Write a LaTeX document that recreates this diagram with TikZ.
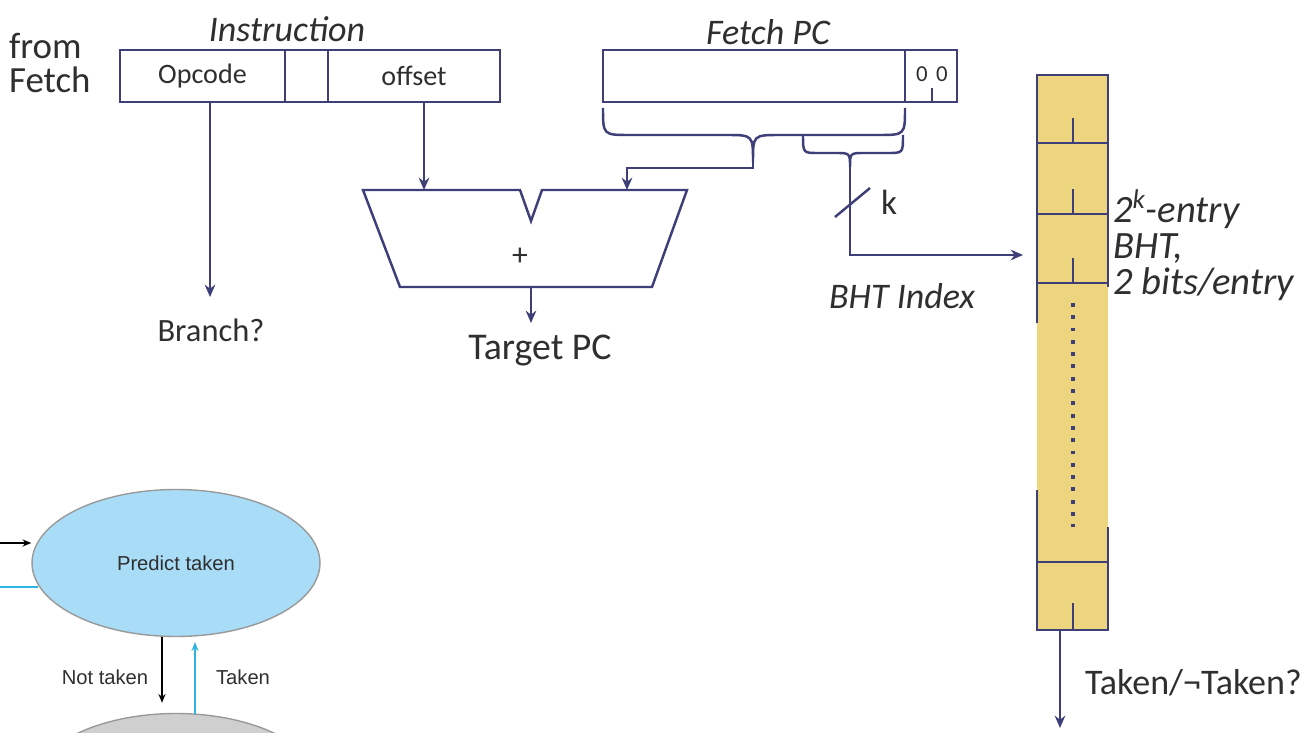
\documentclass[tikz,border=0pt]{standalone}
\usepackage{fontspec}
\setmainfont{Carlito}
\newfontfamily\helv{Liberation Sans}
\usetikzlibrary{arrows.meta,shapes.geometric,calc}
\definecolor{ln}{HTML}{3E3F78}
\definecolor{tx}{HTML}{2F2F2F}
\definecolor{bhtfill}{HTML}{EDD47E}
\definecolor{ptfill}{HTML}{A9DCF6}
\definecolor{gfill}{HTML}{CFCFCF}
\definecolor{gborder}{HTML}{9A9A9A}
\definecolor{cyanl}{HTML}{2BB5E0}
\tikzset{
  wire/.style={draw=ln, line width=1.4pt},
  arr/.style={wire, -{Stealth[length=7pt,width=6pt]}},
  field/.style={draw=ln, line width=1.4pt, inner sep=0pt, minimum height=1.04cm, text=tx, font=\fontsize{16}{18}\selectfont},
  biglbl/.style={text=tx, font=\fontsize{20}{22}\selectfont, inner sep=1pt},
  itlbl/.style={text=tx, font=\fontsize{20.5}{22}\selectfont\itshape, inner sep=1pt},
  state/.style={ellipse, draw=gborder, line width=0.8pt, minimum width=5.76cm, minimum height=2.94cm, inner sep=0pt, text=tx, font=\helv\fontsize{11.5}{13}\selectfont},
  small/.style={text=tx, font=\helv\fontsize{11.5}{13}\selectfont, inner sep=1pt},
  sarr/.style={-{Stealth[length=5pt,width=4pt]}, line width=0.8pt}
}
\begin{document}
\begin{tikzpicture}[x=0.02cm, y=-0.02cm]
\useasboundingbox (0,0) rectangle (1301,733);
\clip (0,0) rectangle (1301,733);
\fill[white] (0,0) rectangle (1301,733);

% ---- Instruction ----
\node[biglbl, anchor=west, align=left, font=\fontsize{21}{22}\selectfont] (from) at (7,63) {from\\[-3pt]Fetch};
\node[field, minimum width=3.3cm] (opcode) at (202.5,76) {Opcode};
\node[field, minimum width=0.86cm] (mid) at (306.5,76) {};
\node[field, minimum width=3.44cm] (offset) at (414,76) {offset};
\node[itlbl] (instr) at (287,29) {Instruction};

% ---- Fetch PC ----
\node[field, minimum width=6.04cm] (pc) at (754,76) {};
\node[field, minimum width=1.04cm] (pclow) at (931,76) {};
\node[text=tx, font=\fontsize{13}{15}\selectfont, inner sep=0pt] (z1) at (922,74) {0};
\node[text=tx, font=\fontsize{13}{15}\selectfont, inner sep=0pt] (z2) at (942,74) {0};
\draw[wire, line width=1pt] (932,88) -- (pclow.south -| 932,0);
\node[itlbl] (fpc) at (768,32) {Fetch PC};

% braces
\draw[wire] (603,108) .. controls (603,135) .. (630,135) -- (726,135)
  .. controls (753,135) .. (753,162) coordinate (bigtip)
  .. controls (753,135) .. (780,135) -- (878,135)
  .. controls (905,135) .. (905,108);
\draw[wire] (803,135) .. controls (803,153) .. (818,153) -- (835,153)
  .. controls (850,153) .. (850,167) coordinate (smalltip)
  .. controls (850,153) .. (865,153) -- (888,153)
  .. controls (903,153) .. (903,135);

% ---- Adder ----
\draw[wire] (363,190) -- (520,190) -- (531,221) -- (542,190) -- (687,190)
  -- (652,287) -- (400,287) -- cycle;
\coordinate (addl) at (424,190);
\coordinate (addr) at (627,190);
\coordinate (addout) at (531,287);
\node[text=tx, font=\fontsize{18}{20}\selectfont] (plus) at (520,257) {+};

\draw[arr] (addl |- offset.south) -- (addl);
\draw[arr] (bigtip) -- (753,168) -| (addr);

% Target PC, Branch?
\node[biglbl, font=\fontsize{21.5}{23}\selectfont] (target) at (540,350) {Target PC};
\draw[arr] (addout) -- (addout |- 0,323);
\node[biglbl, font=\fontsize{18.5}{21}\selectfont] (branch) at (211,330) {Branch?};
\draw[arr] (210,102) -- (210,297);

% ---- BHT index ----
\coordinate (bhtin) at (1023,255);
\draw[arr] (smalltip) -- (850,255) -- (bhtin);
\draw[wire] (835,217) -- (870,188);
\node[biglbl] (k) at (889,202) {k};
\node[itlbl] (bhtidx) at (902,296) {BHT Index};

% ---- BHT table ----
\node[fill=bhtfill, inner sep=0pt, minimum width=1.42cm, minimum height=11.1cm] (bht) at (1072.5,352.5) {};
\draw[wire] (1037,323) -- (1037,75) -- (1108,75) -- (1108,287);
\foreach \yy in {143,214,283}{
  \draw[wire] (1037,\yy) -- (1108,\yy);
  \draw[wire] (1073,\yy-25) -- (1073,\yy);
}
\draw[wire] (1037,490) -- (1037,630) -- (1108,630) -- (1108,527);
\draw[wire] (1037,562) -- (1108,562);
\draw[wire] (1073,603) -- (1073,630);
\draw[ln, line width=2.2pt, dash pattern=on 2.2pt off 4.8pt] (1073,303) -- (1073,527);

\node[text=tx, inner sep=1pt, font=\fontsize{22}{20.5}\selectfont\itshape, anchor=north west, align=left] (bhtlbl) at (1111,188)
  {2\textsuperscript{k}-entry\\BHT,\\2 bits/entry};

\coordinate (bhtout) at (1060,728);
\draw[arr] (1060,630) -- (bhtout);
\node[biglbl, anchor=west, font=\fontsize{20.5}{22}\selectfont] (tnt) at (1083,683) {Taken/¬Taken?};

% ---- state diagram ----
\node[state, fill=ptfill] (pt) at (176,563) {Predict taken};
\node[state, fill=gfill] (pnt) at (176,787) {};
\draw[sarr, black] (0,543) -- (pt.west |- 0,543);
\draw[cyanl, line width=0.8pt] (0,587) -- (38,587);
\draw[sarr, black] ($(pt.south)+(-14,0)$) -- ($(pnt.north)+(-14,-10)$);
\draw[sarr, cyanl] ($(pnt.north)+(19,1)$) -- ($(pt.south)+(19,5)$);
\node[small] (nt) at (105,677) {Not taken};
\node[small] (tk) at (243,677) {Taken};
\end{tikzpicture}
\end{document}
